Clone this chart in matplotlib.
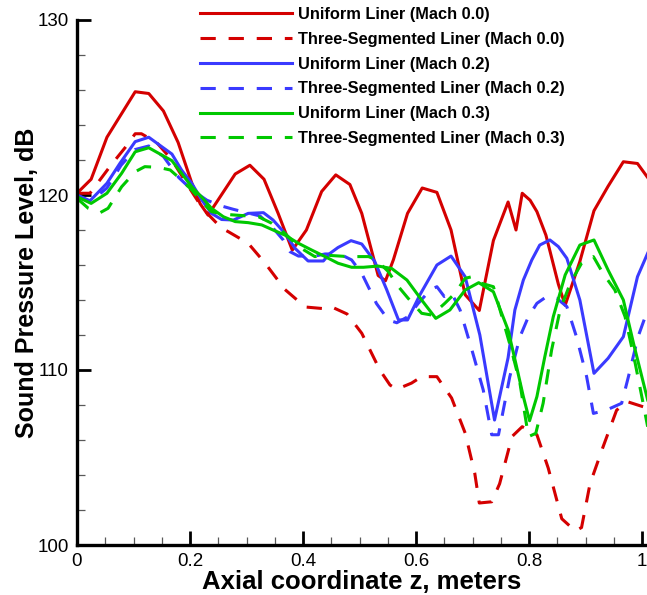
import matplotlib.pyplot as plt
from matplotlib.ticker import MultipleLocator

plt.rcParams['font.family'] = ['Liberation Sans', 'DejaVu Sans']

# Sound pressure level along the duct, dB, for each liner / Mach number case
z_uni_m00 = [0.000, 0.025, 0.053, 0.103, 0.127, 0.153, 0.179, 0.203, 0.218, 0.232,
             0.280, 0.306, 0.331, 0.356, 0.381, 0.406, 0.433, 0.458, 0.483, 0.504,
             0.533, 0.546, 0.560, 0.585, 0.611, 0.637, 0.662, 0.687, 0.712, 0.737,
             0.763, 0.777, 0.788, 0.802, 0.814, 0.830, 0.852, 0.864, 0.890, 0.915,
             0.940, 0.967, 0.992, 1.010]
spl_uni_m00 = [120.1, 120.9, 123.3, 125.9, 125.8, 124.8, 123.0, 120.7, 119.5, 118.85,
               121.2, 121.7, 120.9, 118.95, 116.85, 118.0, 120.2, 121.15, 120.6, 118.95,
               115.4, 115.1, 116.3, 118.95, 120.4, 120.15, 118.0, 114.3, 113.4, 117.4,
               119.6, 118.0, 120.1, 119.7, 119.05, 117.7, 114.9, 113.7, 116.2, 119.1,
               120.5, 121.9, 121.8, 121.0]

z_seg_m00 = [0.000, 0.023, 0.060, 0.085, 0.103, 0.114, 0.141, 0.168, 0.197, 0.218,
             0.232, 0.256, 0.268, 0.303, 0.333, 0.368, 0.404, 0.439, 0.451, 0.478,
             0.504, 0.536, 0.554, 0.566, 0.592, 0.610, 0.637, 0.648, 0.663, 0.687,
             0.704, 0.712, 0.734, 0.748, 0.770, 0.788, 0.814, 0.834, 0.858, 0.882,
             0.893, 0.908, 0.931, 0.955, 0.973, 1.002, 1.010]
spl_seg_m00 = [120.1, 120.1, 121.7, 122.7, 123.5, 123.5, 123.0, 122.0, 120.5, 119.45,
               118.9, 118.1, 117.9, 117.24, 116.1, 114.6, 113.6, 113.5, 113.6, 113.2,
               112.1, 110.0, 109.14, 108.9, 109.25, 109.62, 109.62, 109.1, 108.4, 106.4,
               104.1, 102.4, 102.47, 103.5, 106.2, 106.76, 106.3, 104.4, 101.5, 100.8,
               101.0, 103.5, 105.6, 107.7, 108.2, 107.9, 107.9]

z_uni_m02 = [0.000, 0.023, 0.053, 0.076, 0.103, 0.127, 0.150, 0.168, 0.185, 0.203,
             0.221, 0.238, 0.256, 0.277, 0.303, 0.330, 0.347, 0.368, 0.386, 0.409,
             0.436, 0.448, 0.462, 0.485, 0.504, 0.527, 0.548, 0.569, 0.585, 0.607,
             0.637, 0.662, 0.687, 0.713, 0.739, 0.763, 0.775, 0.790, 0.805, 0.819,
             0.837, 0.852, 0.867, 0.890, 0.915, 0.940, 0.967, 0.992, 1.010]
spl_uni_m02 = [120.0, 119.67, 120.67, 121.81, 123.05, 123.3, 122.76, 122.34, 121.43, 120.67,
               119.71, 118.95, 118.6, 118.57, 118.95, 118.99, 118.57, 117.81, 116.95, 116.23,
               116.23, 116.67, 117.0, 117.39, 117.2, 116.2, 114.6, 112.86, 112.86, 114.3,
               116.0, 116.51, 115.33, 112.0, 107.14, 110.7, 113.43, 115.14, 116.29, 117.14,
               117.43, 117.05, 116.38, 114.0, 109.81, 110.67, 111.9, 115.33, 116.67]

z_seg_m02 = [0.000, 0.023, 0.053, 0.078, 0.103, 0.127, 0.153, 0.180, 0.203, 0.230,
             0.256, 0.277, 0.324, 0.345, 0.365, 0.377, 0.392, 0.421, 0.439, 0.465,
             0.486, 0.504, 0.530, 0.551, 0.566, 0.586, 0.604, 0.625, 0.637, 0.650,
             0.663, 0.678, 0.699, 0.719, 0.734, 0.746, 0.766, 0.784, 0.799, 0.814,
             0.831, 0.849, 0.867, 0.884, 0.902, 0.914, 0.937, 0.964, 0.976, 0.993,
             1.010]
spl_seg_m02 = [120.0, 119.6, 120.4, 121.7, 122.6, 122.8, 122.2, 121.0, 120.3, 119.7,
               119.37, 119.18, 118.8, 118.19, 117.43, 116.76, 116.51, 116.51, 116.63, 116.63,
               116.29, 115.52, 113.8, 112.86, 112.7, 113.05, 113.81, 114.57, 114.76, 114.2,
               114.4, 113.43, 111.14, 108.86, 106.3, 106.3, 109.62, 111.9, 113.05, 113.81,
               114.19, 114.1, 113.62, 111.9, 109.62, 107.52, 107.71, 108.1, 109.62, 111.9,
               113.43]

z_uni_m03 = [0.000, 0.025, 0.053, 0.079, 0.103, 0.127, 0.147, 0.168, 0.185, 0.203,
             0.221, 0.238, 0.259, 0.280, 0.303, 0.327, 0.347, 0.368, 0.392, 0.415,
             0.439, 0.462, 0.486, 0.507, 0.533, 0.557, 0.584, 0.610, 0.635, 0.660,
             0.687, 0.711, 0.737, 0.763, 0.778, 0.790, 0.801, 0.814, 0.828, 0.843,
             0.864, 0.890, 0.915, 0.940, 0.967, 0.985, 1.010]
spl_uni_m03 = [119.9, 119.52, 120.1, 121.24, 122.47, 122.7, 122.34, 121.96, 121.24, 120.47,
               119.87, 119.24, 118.76, 118.48, 118.42, 118.29, 118.0, 117.71, 117.24, 116.86,
               116.48, 116.1, 115.87, 115.87, 115.94, 115.8, 115.14, 114.0, 112.95, 113.43,
               114.57, 114.99, 114.47, 112.29, 110.19, 108.48, 107.1, 108.48, 110.76, 113.05,
               115.43, 117.14, 117.43, 115.71, 114.0, 111.52, 108.29]

z_seg_m03 = [0.000, 0.020, 0.041, 0.055, 0.079, 0.103, 0.120, 0.144, 0.165, 0.185,
             0.203, 0.221, 0.238, 0.260, 0.303, 0.321, 0.345, 0.368, 0.392, 0.421,
             0.436, 0.480, 0.516, 0.530, 0.551, 0.569, 0.586, 0.610, 0.628, 0.651,
             0.669, 0.687, 0.699, 0.712, 0.737, 0.769, 0.784, 0.799, 0.812, 0.825,
             0.840, 0.855, 0.873, 0.893, 0.914, 0.931, 0.952, 0.970, 0.988, 1.002,
             1.010]
spl_seg_m03 = [119.81, 119.24, 118.99, 119.24, 120.47, 121.33, 121.62, 121.58, 121.43, 120.86,
               120.29, 119.62, 119.05, 118.9, 118.8, 118.76, 118.38, 117.81, 117.05, 116.48,
               116.57, 116.48, 116.48, 116.29, 115.62, 114.76, 114.1, 113.24, 113.14, 113.81,
               114.38, 115.24, 115.33, 114.99, 114.76, 111.14, 109.24, 106.19, 106.38, 108.1,
               111.14, 113.43, 114.95, 116.1, 116.48, 115.52, 114.57, 113.05, 110.38, 108.1,
               106.76]

labels = ['Uniform Liner (Mach 0.0)', 'Three-Segmented Liner (Mach 0.0)',
          'Uniform Liner (Mach 0.2)', 'Three-Segmented Liner (Mach 0.2)',
          'Uniform Liner (Mach 0.3)', 'Three-Segmented Liner (Mach 0.3)']

red, blue, green = '#d40000', '#3a3aff', '#00c800'
dash = (0, (5, 4.2))

W, H = 647, 595
fig = plt.figure(figsize=(W / 100, H / 100), dpi=100)
# x = 0 sits at pixel 77, x = 1 at pixel 642; the frame runs to the right edge
ax = fig.add_axes([77 / W, 50 / H, (W - 77) / W, 525 / H])

lw = 2.2
ax.plot(z_uni_m00, spl_uni_m00, color=red, lw=lw, label=labels[0])
ax.plot(z_seg_m00, spl_seg_m00, color=red, lw=lw, ls=dash, label=labels[1])
ax.plot(z_uni_m02, spl_uni_m02, color=blue, lw=lw, label=labels[2])
ax.plot(z_seg_m02, spl_seg_m02, color=blue, lw=lw, ls=dash, label=labels[3])
ax.plot(z_uni_m03, spl_uni_m03, color=green, lw=lw, label=labels[4])
ax.plot(z_seg_m03, spl_seg_m03, color=green, lw=lw, ls=dash, label=labels[5])

ax.set_xlim(0, (W - 77) / 565)
ax.set_ylim(100, 130)
ax.xaxis.set_major_locator(MultipleLocator(0.2))
ax.xaxis.set_minor_locator(MultipleLocator(0.05))
ax.yaxis.set_major_locator(MultipleLocator(10))
ax.yaxis.set_minor_locator(MultipleLocator(2))
ax.set_xticks([0, 0.2, 0.4, 0.6, 0.8, 1.0], ['0', '0.2', '0.4', '0.6', '0.8', '1'])

for side in ('top', 'right'):
    ax.spines[side].set_visible(False)
for side in ('left', 'bottom'):
    ax.spines[side].set_linewidth(2.4)

ax.tick_params(which='major', direction='in', length=10, width=2, labelsize=13.5, pad=6)
ax.tick_params(which='minor', direction='in', length=6, width=0.9, color='0.35')

ax.set_xlabel('Axial coordinate z, meters', fontsize=18.5, fontweight='bold', labelpad=0)
ax.set_ylabel('Sound Pressure Level, dB', fontsize=18, fontweight='bold', labelpad=-1.5)

ax.legend(loc='upper left', bbox_to_anchor=(200 / W, 1 - 7 / H),
          bbox_transform=fig.transFigure, frameon=False,
          prop={'size': 11.8, 'weight': 'bold'}, handlelength=5.6,
          handletextpad=0.4, labelspacing=0.6, borderpad=0, borderaxespad=0)

fig.savefig('out.png', dpi=100)
